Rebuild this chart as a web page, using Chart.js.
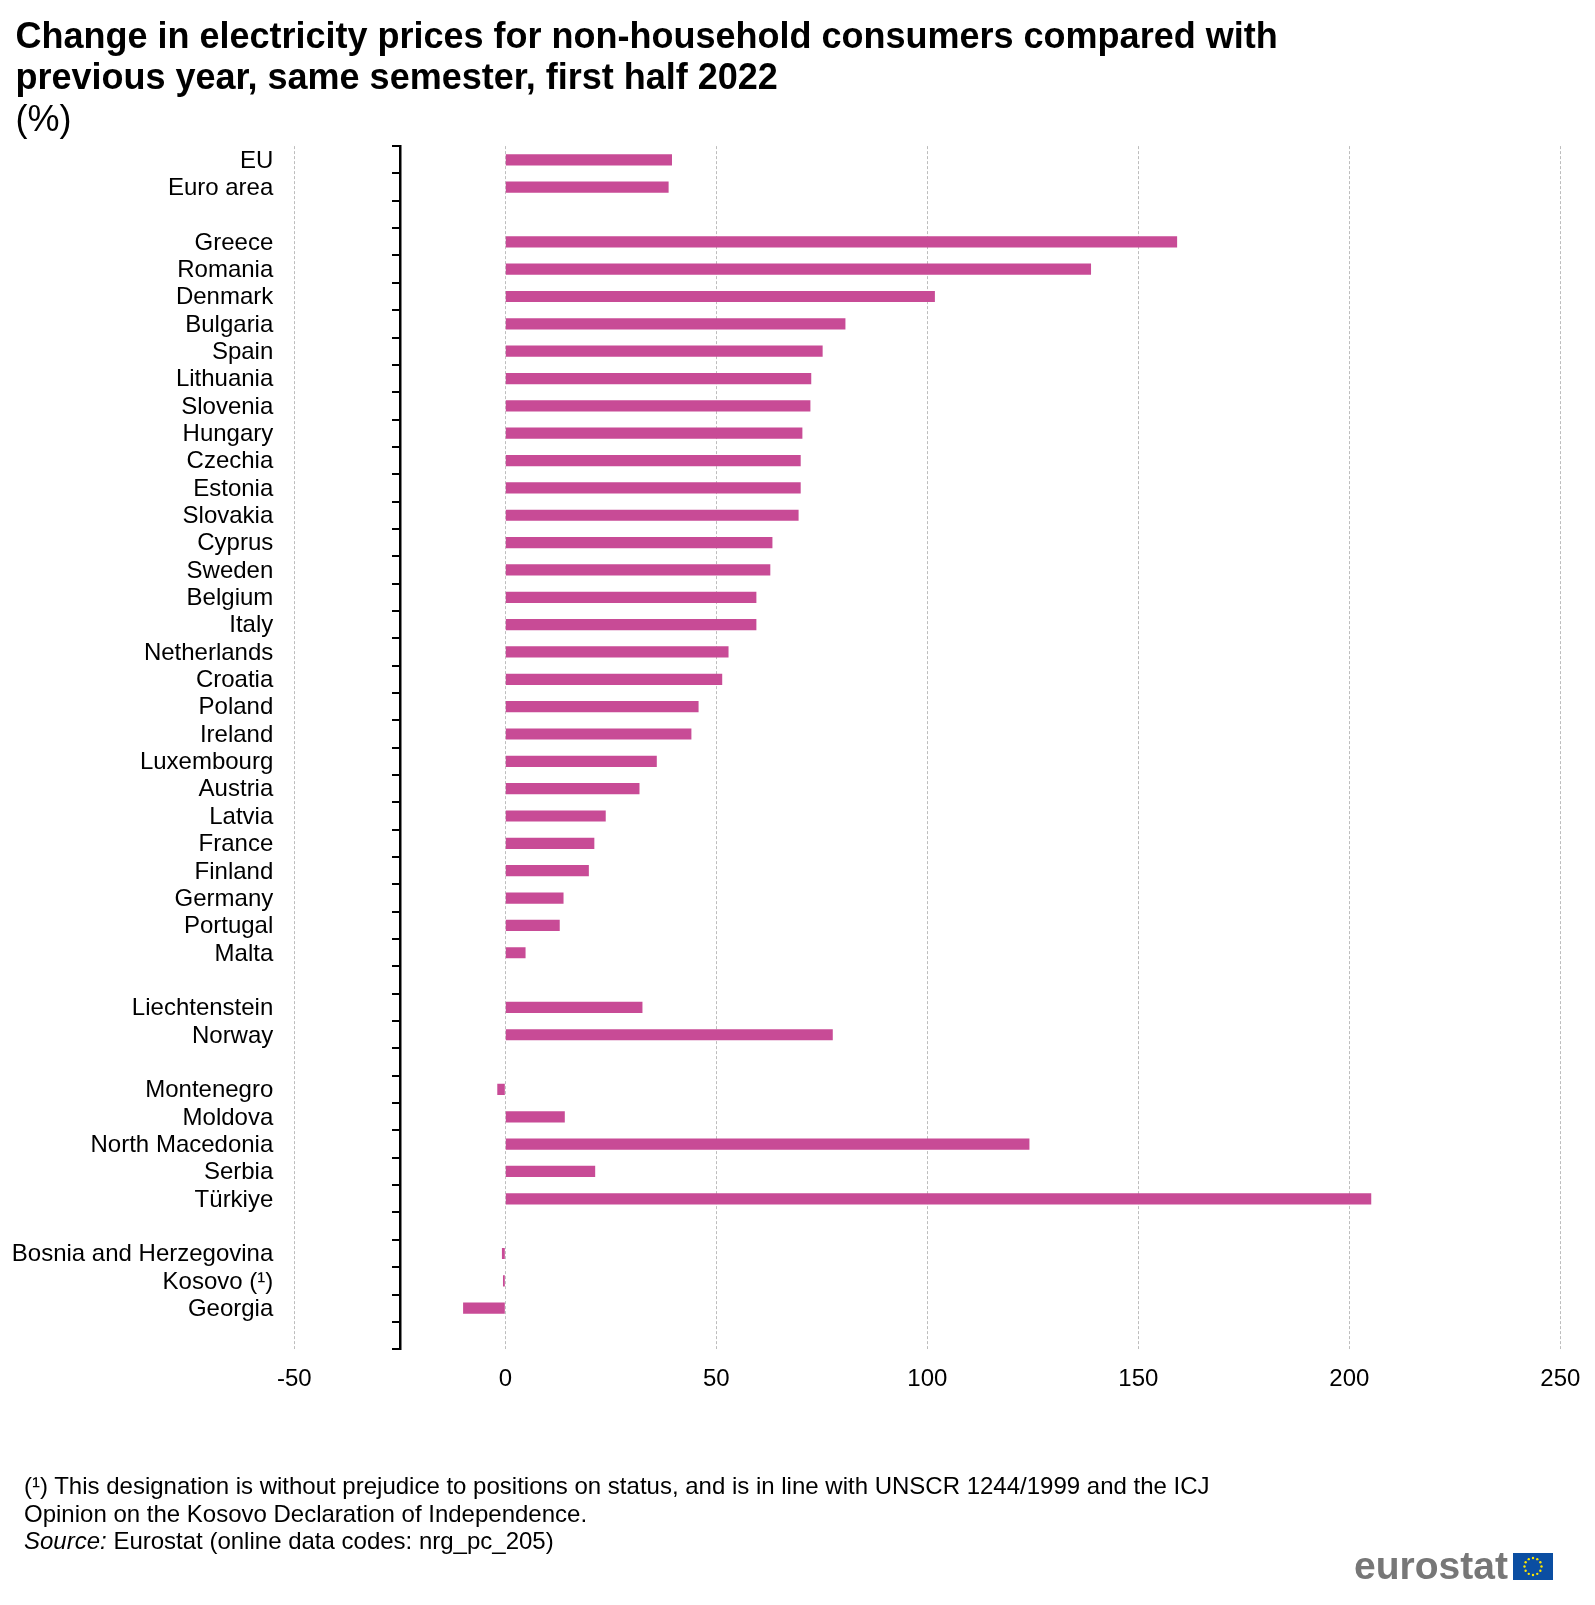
<!DOCTYPE html>
<html>
<head>
<meta charset="utf-8">
<script src="https://cdn.jsdelivr.net/npm/chart.js@4"></script>
<style>
  html, body { margin: 0; padding: 0; background: #fff; }
  #wrap { position: relative; width: 1595px; height: 1605px; overflow: hidden; font-family: "Liberation Sans", Arial, sans-serif; }
  #wrap canvas { position: absolute; left: 0; top: 0; }
  #notes { position: absolute; left: 24px; top: 1472px; font-size: 24px; line-height: 27.6px; color: #000; white-space: nowrap; }
  #logo { position: absolute; left: 1354px; top: 1548px; font-size: 39px; line-height: 36px; font-weight: bold; color: #777; }
  #flag { position: absolute; left: 1513px; top: 1553px; }
</style>
</head>
<body>
<div id="wrap">
  <canvas id="chart"></canvas>
  <div id="notes">
    (¹) This designation is without prejudice to positions on status, and is in line with UNSCR 1244/1999 and the ICJ<br>
    Opinion on the Kosovo Declaration of Independence.<br>
    <i>Source:</i> Eurostat (online data codes: nrg_pc_205)
  </div>
  <div id="logo">eurostat</div>
  <svg id="flag" width="40" height="27" viewBox="0 0 40 27">
    <rect width="40" height="27" fill="#0b4ea2"/>
    <g id="stars" fill="#ffe600"></g>
  </svg>
</div>
<script>
// blank labels are the gaps between the country groups
const categories = ['EU', 'Euro area', '', 'Greece', 'Romania', 'Denmark', 'Bulgaria', 'Spain', 'Lithuania',
  'Slovenia', 'Hungary', 'Czechia', 'Estonia', 'Slovakia', 'Cyprus', 'Sweden', 'Belgium', 'Italy',
  'Netherlands', 'Croatia', 'Poland', 'Ireland', 'Luxembourg', 'Austria', 'Latvia', 'France', 'Finland',
  'Germany', 'Portugal', 'Malta', '', 'Liechtenstein', 'Norway', '', 'Montenegro', 'Moldova',
  'North Macedonia', 'Serbia', 'Türkiye', '', 'Bosnia and Herzegovina', 'Kosovo (¹)', 'Georgia', ''];
const priceChange = [39.5, 38.7, null, 159.2, 138.8, 101.8, 80.6, 75.2, 72.5,
  72.3, 70.4, 70, 70, 69.5, 63.3, 62.8, 59.5, 59.5,
  52.9, 51.4, 45.8, 44.1, 35.9, 31.8, 23.8, 21.1, 19.8,
  13.8, 12.9, 4.8, null, 32.5, 77.6, null, -1.9, 14.1,
  124.2, 21.3, 205.2, null, -0.8, -0.55, -10, null];
const titleLines = ['Change in electricity prices for non-household consumers compared with',
  'previous year, same semester, first half 2022'];
const unitLabel = '(%)';

const fontFamily = '"Liberation Sans", Arial, sans-serif';

// twelve little stars on the flag
const $stars = document.getElementById('stars');
for (let i = 0; i < 12; i++) {
  const a = i * Math.PI / 6;
  const c = document.createElementNS('http://www.w3.org/2000/svg', 'circle');
  c.setAttribute('cx', 20 + 8.5 * Math.cos(a));
  c.setAttribute('cy', 13.5 + 8.5 * Math.sin(a));
  c.setAttribute('r', 1.2);
  $stars.appendChild(c);
}

const canvas = document.getElementById('chart');
canvas.style.width = '1595px';
canvas.style.height = '1605px';

new Chart(canvas, {
  type: 'bar',
  data: {
    labels: categories,
    datasets: [{
      data: priceChange,
      backgroundColor: '#c84b96',
      barPercentage: 0.41,
      categoryPercentage: 1
    }]
  },
  options: {
    indexAxis: 'y',
    responsive: false,
    animation: false,
    devicePixelRatio: 1,
    layout: { padding: { left: 15.4, right: 34.7, top: 18, bottom: 195 } },
    plugins: {
      legend: { display: false },
      tooltip: { enabled: false },
      title: {
        display: true,
        text: titleLines,
        align: 'start',
        color: '#000',
        font: { family: fontFamily, size: 36, weight: 'bold', lineHeight: 1.14 },
        padding: { top: 0, bottom: 0 }
      },
      subtitle: {
        display: true,
        text: unitLabel,
        align: 'start',
        color: '#000',
        font: { family: fontFamily, size: 36, weight: 'normal', lineHeight: 1.14 },
        padding: { top: 0, bottom: 5 }
      }
    },
    scales: {
      x: {
        type: 'linear',
        min: -50,
        max: 250,
        border: { display: false, dash: [3, 2] },
        grid: { color: '#bdbdbd', lineWidth: 1, drawTicks: false },
        ticks: { stepSize: 50, color: '#000', padding: 16, font: { family: fontFamily, size: 24 } },
        afterFit: (scale) => { scale.paddingRight = 0; }
      },
      y: {
        type: 'category',
        position: 'left',
        border: { display: false },
        grid: { display: false, drawTicks: false },
        ticks: { autoSkip: false, color: '#000', padding: 21, labelOffset: 1.2, font: { family: fontFamily, size: 24 } },
        afterFit: (scale) => { scale.width = 278.9; }
      },
      // the black axis sits at -25, away from the labels
      axisLine: {
        type: 'category',
        axis: 'y',
        labels: categories,
        position: { x: -25 },
        border: { display: true, color: '#000', width: 2.5 },
        grid: { drawOnChartArea: false, drawTicks: true, tickLength: 7, color: '#000', lineWidth: 2, offset: true },
        ticks: { display: false, autoSkip: false }
      }
    }
  },
  plugins: [{
    // long labels get clipped at the scale's left edge, let them run to the canvas edge
    id: 'unclipLabels',
    afterLayout(chart) {
      chart.scales.y.left = 0;
    }
  }]
});
</script>
</body>
</html>
